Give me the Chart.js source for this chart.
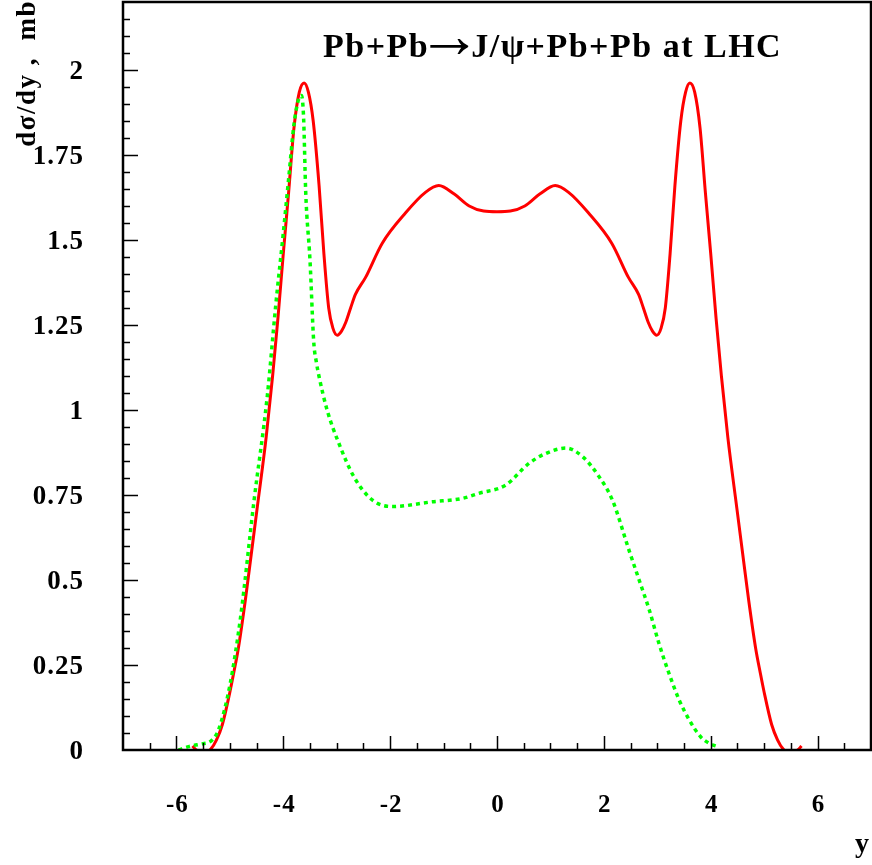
<!DOCTYPE html>
<html>
<head>
<meta charset="utf-8">
<script src="https://cdn.jsdelivr.net/npm/chart.js@4.4.1/dist/chart.umd.min.js"></script>
<style>
  body { margin: 0; background: #fff; }
  canvas { display: block; }
</style>
</head>
<body>
<canvas id="jpsiChart" width="872" height="865"></canvas>
<script>
// d sigma / dy for Pb+Pb -> J/psi + Pb + Pb
const redY = [-5.7, -5.63, -5.5, -5.36, -5.25, -5.14, -5.0, -4.93, -4.84, -4.71, -4.6, -4.49, -4.32, -4.2, -4.1, -4.0, -3.9, -3.8, -3.7, -3.61, -3.53, -3.44, -3.33, -3.24, -3.15, -3.07, -2.99, -2.91, -2.83, -2.74, -2.65, -2.46, -2.15, -1.71, -1.34, -1.09, -0.8, -0.52, -0.25, 0,
  0.25, 0.52, 0.8, 1.09, 1.34, 1.71, 2.15, 2.46, 2.65, 2.74, 2.83, 2.91, 2.99, 3.07, 3.15, 3.24, 3.33, 3.44, 3.53, 3.61, 3.7, 3.8, 3.9, 4.0, 4.1, 4.2, 4.32, 4.49, 4.6, 4.71, 4.84, 4.93, 5.0, 5.14, 5.25, 5.36, 5.5, 5.63, 5.7];
const redXs = [0.012, 0, -0.012, 0.002, 0.03, 0.075, 0.17, 0.225, 0.30, 0.441, 0.575, 0.71, 0.92, 1.10, 1.27, 1.46, 1.64, 1.83, 1.935, 1.962, 1.935, 1.85, 1.66, 1.46, 1.30, 1.24, 1.22, 1.232, 1.258, 1.30, 1.34, 1.39, 1.49, 1.58, 1.64, 1.66, 1.635, 1.60, 1.585, 1.583,
  1.585, 1.60, 1.635, 1.66, 1.64, 1.58, 1.49, 1.39, 1.34, 1.30, 1.258, 1.232, 1.22, 1.24, 1.30, 1.46, 1.66, 1.85, 1.935, 1.962, 1.935, 1.83, 1.64, 1.46, 1.27, 1.10, 0.92, 0.71, 0.575, 0.441, 0.30, 0.225, 0.17, 0.075, 0.03, 0.002, -0.012, 0, 0.012];

const greenY = [-5.96, -5.77, -5.52, -5.4, -5.33, -5.21, -5.0, -4.8, -4.55, -4.3, -4.14, -4.0, -3.9, -3.8, -3.72, -3.66, -3.62, -3.58, -3.5, -3.43, -3.38, -3.33, -3.18, -2.96, -2.68, -2.33, -1.96, -1.21, -0.65, -0.34, 0.16, 0.6, 0.91, 1.29, 1.6, 1.91, 2.16, 2.47, 2.66, 2.85, 3.03, 3.22, 3.41, 3.6, 3.81, 3.97, 4.13];
const greenXs = [0, 0.01, 0.018, 0.022, 0.03, 0.06, 0.19, 0.39, 0.73, 1.04, 1.31, 1.52, 1.68, 1.84, 1.91, 1.925, 1.86, 1.64, 1.44, 1.2, 1.14, 1.098, 1.0, 0.902, 0.804, 0.735, 0.716, 0.730, 0.740, 0.755, 0.779, 0.843, 0.872, 0.888, 0.863, 0.804, 0.735, 0.588, 0.5, 0.412, 0.314, 0.225, 0.147, 0.088, 0.039, 0.02, 0.01];

const xTicks = [-6, -4, -2, 0, 2, 4, 6];
const yTicks = [0, 0.25, 0.5, 0.75, 1, 1.25, 1.5, 1.75, 2];

const SERIF = "'Liberation Serif', 'DejaVu Serif', serif";

function toPoints(xs, ys) {
  return xs.map((v, i) => ({ x: v, y: ys[i] }));
}

// frame, inward ticks, tick labels and texts, in the old PAW style
const pawFrame = {
  id: 'pawFrame',
  afterDraw(chart) {
    const { ctx, chartArea: a, scales: { x, y } } = chart;
    ctx.save();
    ctx.strokeStyle = '#000';
    ctx.lineWidth = 1.5;
    ctx.beginPath();
    for (let i = -13; i <= 13; i++) {
      const px = Math.round(x.getPixelForValue(i / 2)) + 0.5;
      const len = i % 4 === 0 ? 14 : 7;
      ctx.moveTo(px, a.bottom);
      ctx.lineTo(px, a.bottom - len);
    }
    for (let i = 1; i <= 43; i++) {
      const py = Math.round(y.getPixelForValue(i * 0.05)) + 0.5;
      const len = i % 5 === 0 ? 15 : 7;
      ctx.moveTo(a.left, py);
      ctx.lineTo(a.left + len, py);
    }
    ctx.stroke();

    ctx.lineWidth = 2.5;
    ctx.strokeRect(a.left, a.top, a.right - a.left, a.bottom - a.top);

    ctx.fillStyle = '#000';
    ctx.textBaseline = 'alphabetic';

    // tick labels
    ctx.letterSpacing = '1px';
    ctx.font = 'bold 25px ' + SERIF;
    ctx.textAlign = 'center';
    xTicks.forEach(v => ctx.fillText(String(v), x.getPixelForValue(v) + 1, 812));
    ctx.font = 'bold 27px ' + SERIF;
    ctx.textAlign = 'right';
    yTicks.forEach(v => ctx.fillText(String(v), 84, y.getPixelForValue(v) + 9));

    // title, the arrow is a thin glyph from the regular face
    ctx.textAlign = 'left';
    ctx.letterSpacing = '1.5px';
    ctx.font = 'bold 34px ' + SERIF;
    let tx = 323;
    ctx.fillText('Pb+Pb', tx, 57);
    tx += ctx.measureText('Pb+Pb').width;
    ctx.letterSpacing = '0px';
    ctx.font = '64px ' + SERIF;
    ctx.fillText('\u2192', tx - 12, 57);
    tx += 42;
    ctx.letterSpacing = '1.5px';
    ctx.font = 'bold 34px ' + SERIF;
    ctx.fillText('J/\u03c8+Pb+Pb at LHC', tx, 57);

    ctx.font = 'bold 28px ' + SERIF;
    ctx.fillText('y', 855, 852);

    ctx.translate(35, 0);
    ctx.rotate(-Math.PI / 2);
    ctx.font = 'bold 27px ' + SERIF;
    ctx.textAlign = 'right';
    ctx.fillText('d\u03c3/dy ,  mb', 0, 0);
    ctx.restore();
  }
};

new Chart(document.getElementById('jpsiChart'), {
  type: 'line',
  data: {
    datasets: [
      {
        data: toPoints(greenY, greenXs),
        borderColor: '#00ff00',
        borderWidth: 3.5,
        borderDash: [4, 4],
        pointRadius: 0,
        cubicInterpolationMode: 'monotone'
      },
      {
        data: toPoints(redY, redXs),
        borderColor: '#ff0000',
        borderWidth: 3,
        pointRadius: 0,
        cubicInterpolationMode: 'monotone'
      }
    ]
  },
  options: {
    responsive: false,
    animation: false,
    layout: { padding: { top: 2, right: 1, left: 123, bottom: 115 } },
    plugins: { legend: { display: false }, tooltip: { enabled: false } },
    scales: {
      x: { type: 'linear', min: -7, max: 7, display: false },
      y: { type: 'linear', min: 0, max: 2.2, display: false }
    }
  },
  plugins: [pawFrame]
});
</script>
</body>
</html>
